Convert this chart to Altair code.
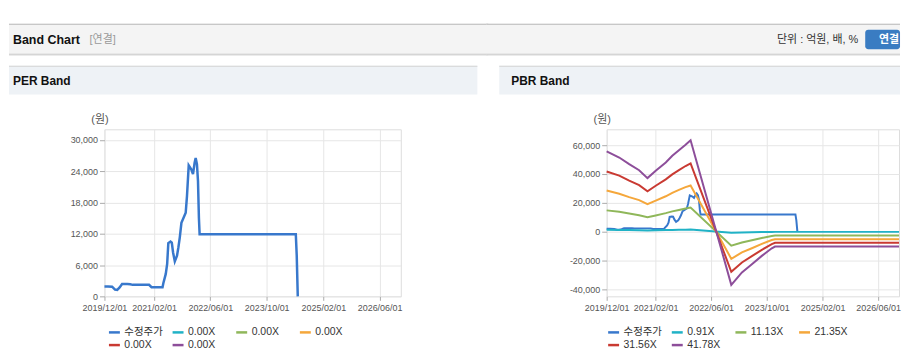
import datetime as dt
import altair as alt
import pandas as pd

# ---------------- data ----------------
PRICE_DATES = ["2019-12-01", "2020-01-01", "2020-02-05", "2020-03-01", "2020-03-20", "2020-04-10",
               "2020-05-01", "2020-06-15", "2020-07-10", "2020-08-01", "2020-12-20", "2021-01-10",
               "2021-04-15", "2021-04-22", "2021-05-13", "2021-05-25", "2021-06-04", "2021-06-23",
               "2021-07-04", "2021-07-15", "2021-07-30", "2021-08-18", "2021-08-30", "2021-09-11",
               "2021-09-25", "2021-10-09", "2021-11-01", "2021-11-12", "2021-11-27", "2021-12-20",
               "2022-01-03", "2022-01-17", "2022-01-26", "2022-02-06", "2022-02-15", "2022-02-23",
               "2022-03-01", "2024-06-08", "2024-06-16", "2024-06-25"]
PRICE_VALUES = [1900, 1900, 1850, 1300, 1250, 1700,
                2350, 2350, 2300, 2200, 2200, 1750,
                1750, 2500, 4300, 6200, 10200, 10500,
                10300, 8400, 6700, 7800, 9400, 11300,
                14100, 14800, 16000, 19200, 25100, 24300,
                23400, 25600, 26500, 25300, 22100, 15000,
                11900, 11900, 7800, 0]

BAND_DATES = ["2019-12-01", "2020-03-20", "2020-06-15", "2020-09-10", "2020-11-22", "2021-02-02",
              "2021-05-01", "2021-06-27", "2021-08-24", "2021-10-21", "2021-12-04", "2022-11-25",
              "2023-02-26", "2023-05-24", "2023-08-19", "2023-11-14", "2023-12-13", "2026-12-01"]
PBR_0_91X = [1200, 1100, 1000, 900, 800, 900, 1000, 1100, 1200, 1300, 1400, -800,
             -600, -500, -400, -250, -230, -230]
PBR_11_13X = [14700, 13700, 12500, 11300, 10000, 11200, 12800, 14000, 15000, 16000, 16700, -9800,
              -7600, -6000, -4500, -3100, -2800, -2800]
PBR_21_35X = [28500, 26200, 23900, 21800, 19000, 21500, 24500, 26900, 28900, 30800, 32000, -18900,
              -14500, -11600, -8600, -5900, -5300, -5300]
PBR_31_56X = [41700, 38800, 35300, 32200, 28000, 31800, 36200, 39700, 42700, 45500, 47300, -28000,
              -21500, -17100, -12700, -8700, -7800, -7800]
PBR_41_78X = [55600, 51400, 46800, 42600, 37100, 42200, 47900, 52600, 56500, 60200, 63400, -37000,
              -28400, -22700, -16900, -11600, -10400, -10400]

SERIES_KEYS = ["s0", "s1", "s2", "s3", "s4", "s5"]
PER_LEGEND_LABELS = ["수정주가", "0.00X", "0.00X", "0.00X", "0.00X", "0.00X"]
PBR_LEGEND_LABELS = ["수정주가", "0.91X", "11.13X", "21.35X", "31.56X", "41.78X"]
SERIES_COLORS = ["#3878cc", "#20b2c6", "#8fb75a", "#f5a73b", "#c93a32", "#8d4e9a"]

X_DOMAIN = ["2019-12-01", "2026-12-01"]
X_TICKS = ["2019-12-01", "2021-02-01", "2022-06-01", "2023-10-01", "2025-02-01", "2026-06-01"]
PER_Y_DOMAIN = [0, 32000]
PER_Y_TICKS = [0, 6000, 12000, 18000, 24000, 30000]
PBR_Y_DOMAIN = [-45000, 71000]
PBR_Y_TICKS = [-40000, -20000, 0, 20000, 40000, 60000]

HEADER_TITLE = "Band Chart"
HEADER_SUB = "[연결]"
HEADER_UNIT = "단위 : 억원, 배, %"
HEADER_BUTTON = "연결"
PER_TITLE = "PER Band"
PBR_TITLE = "PBR Band"
Y_UNIT = "(원)"

# ---------------- helpers ----------------
NUMFONT = "Liberation Sans"
KFONT = "Liberation Sans, Noto Sans CJK KR"


def ts(s):
    return s + "T00:00:00"


def dtobj(s):
    d = dt.date.fromisoformat(s)
    return alt.DateTime(year=d.year, month=d.month, date=d.day)


price_rows = [{"date": ts(d), "value": v, "series": "s0"} for d, v in zip(PRICE_DATES, PRICE_VALUES)]
per_df = pd.DataFrame(price_rows)
band_rows = []
for key, vals in zip(SERIES_KEYS[1:], [PBR_0_91X, PBR_11_13X, PBR_21_35X, PBR_31_56X, PBR_41_78X]):
    band_rows += [{"date": ts(d), "value": v, "series": key} for d, v in zip(BAND_DATES, vals)]
pbr_df = pd.DataFrame(price_rows + band_rows)

one = pd.DataFrame({"_": [0]})


def legend_expr(labels):
    keys = "[" + ",".join("'%s'" % k for k in SERIES_KEYS) + "]"
    labs = "[" + ",".join("'%s'" % l for l in labels) + "]"
    return "%s[indexof(%s, datum.value)]" % (labs, keys)


def rect(x1, x2, y1, y2, fill, **kw):
    return alt.Chart(one).mark_rect(fill=fill, **kw).encode(
        x=alt.value(x1), x2=alt.value(x2), y=alt.value(y1), y2=alt.value(y2))


def label(x, y, text, size=12, weight="normal", color="#222", align="left", font=KFONT):
    return alt.Chart(one).mark_text(align=align, baseline="middle", fontSize=size,
                                    fontWeight=weight, color=color, font=font).encode(
        x=alt.value(x), y=alt.value(y), text=alt.value(text))


def plot_layer(df, y_domain, y_ticks, labels, stroke_w, legend_x, legend_y):
    x_axis = alt.Axis(values=[dtobj(t) for t in X_TICKS], format="%Y/%m/%d", labelFlush=False,
                      labelOverlap=False, labelFont=NUMFONT, labelFontSize=9, labelColor="#555",
                      tickColor="#aaaaaa", tickSize=4, domain=False, gridColor="#e6e6e6",
                      labelPadding=3, title=None)
    y_axis = alt.Axis(values=y_ticks, labelExpr="replace(format(datum.value, ','), '\u2212', '-')",
                      labelFont=NUMFONT, labelFontSize=9, labelColor="#555", tickColor="#aaaaaa",
                      tickSize=5, domain=False, gridColor="#e6e6e6", labelPadding=2,
                      title=Y_UNIT, titleAngle=0, titleX=-5, titleY=-10, titleAlign="center",
                      titleBaseline="middle", titleFont=KFONT, titleFontSize=11,
                      titleFontWeight="normal", titleColor="#555")
    legend = alt.Legend(orient="none", legendX=legend_x, legendY=legend_y, columns=4,
                        direction="horizontal",
                        symbolType="stroke", symbolSize=121, symbolStrokeWidth=2.5,
                        labelFont=KFONT, labelFontSize=10.5, labelColor="#333", title=None,
                        gridAlign="all", columnPadding=4, rowPadding=-1.3, labelOffset=3,
                        padding=0, labelExpr=legend_expr(labels))
    return alt.Chart(df).mark_line(strokeWidth=stroke_w).encode(
        x=alt.X("date:T", axis=x_axis,
                scale=alt.Scale(domain=[dtobj(X_DOMAIN[0]), dtobj(X_DOMAIN[1])], nice=False)),
        y=alt.Y("value:Q", axis=y_axis, scale=alt.Scale(domain=y_domain, nice=False, zero=False)),
        color=alt.Color("series:N", legend=legend,
                        scale=alt.Scale(domain=SERIES_KEYS, range=SERIES_COLORS)),
        detail="series:N",
    )


# ---------------- left panel (view origin at page 104,128) ----------------
left = alt.layer(
    rect(-96, 386, -106, -75, "#f4f4f4"),
    rect(-96, 386, -106, -105, "#b9b9b9"),
    rect(-96, 386, -76, -75, "#c4c4c4"),
    rect(-96, 386, -75, -74, "#e4e4e4"),
    label(-92, -90, HEADER_TITLE, size=12.5, weight="bold", color="#111"),
    label(-15, -90, HEADER_SUB, size=11, color="#999"),
    rect(-96, 375, -64, -35, "#eef2f6"),
    rect(-96, 375, -64, -63, "#d3d3d3"),
    label(-92, -48.5, PER_TITLE, size=12, weight="bold", color="#111"),
    plot_layer(per_df, PER_Y_DOMAIN, PER_Y_TICKS, PER_LEGEND_LABELS, 2.5, 3, 197),
).properties(width=298, height=168)

# ---------------- right panel (view origin at page 607,128) ----------------
right = alt.layer(
    rect(-121, 295, -106, -75, "#f4f4f4"),
    rect(-121, 295, -106, -105, "#b9b9b9"),
    rect(-121, 295, -76, -75, "#c4c4c4"),
    rect(-121, 295, -75, -74, "#e4e4e4"),
    label(253, -90, HEADER_UNIT, size=11, color="#333", align="right"),
    rect(260, 295, -100, -80.5, "#3a7cc2", cornerRadius=3),
    label(284, -90, HEADER_BUTTON, size=11, weight="bold", color="white", align="center"),
    rect(-108, 295, -64, -35, "#eef2f6"),
    rect(-108, 295, -64, -63, "#d3d3d3"),
    label(-96, -48.5, PBR_TITLE, size=12, weight="bold", color="#111"),
    plot_layer(pbr_df, PBR_Y_DOMAIN, PBR_Y_TICKS, PBR_LEGEND_LABELS, 2, 0, 197),
).properties(width=294, height=168)

chart = alt.hconcat(left, right, spacing=-4).resolve_scale(
    color="independent", x="independent", y="independent"
).properties(
    padding={"top": 14, "left": 0, "right": 0, "bottom": 0}
).configure_view(stroke="#aaaaaa").configure(background="white")

chart.save("out.html", embed_options={"renderer": "svg", "actions": False})
